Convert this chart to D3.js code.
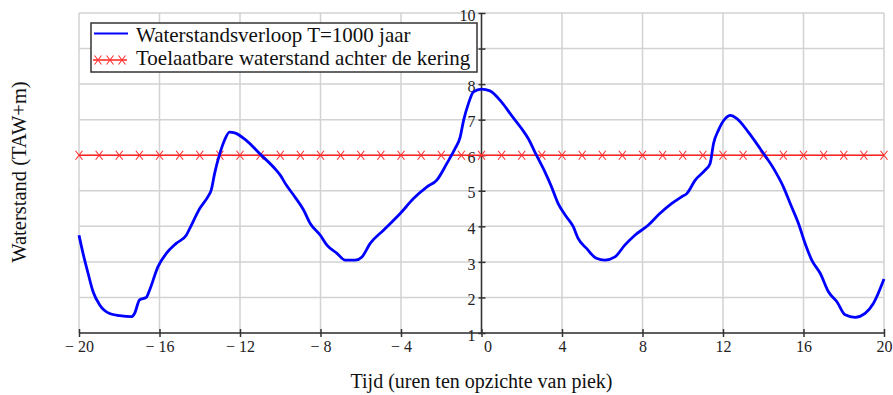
<!DOCTYPE html>
<html>
<head>
<meta charset="utf-8">
<script src="https://cdn.jsdelivr.net/npm/d3@7"></script>
<style>
  body { margin: 0; background: #fff; }
  svg { display: block; font-family: "Liberation Serif", "Times New Roman", serif; }
  .grid line { stroke: #d2d2d2; stroke-width: 1.5; }
  .axis path, .axis line { stroke: #333; stroke-width: 1.5; }
  .axis text { fill: #222; }
</style>
</head>
<body>
<script>
// Waterstand (TAW+m) over time around the peak
const hours = [-20, -19.8, -19.55, -19.3, -18.97, -18.48, -17.98, -17.4, -17.24, -16.99, -16.66, -16.49,
  -16.08, -15.66, -15.17, -14.67, -14.42, -14.0, -13.6, -13.43, -13.26, -13.0, -12.77, -12.52, -12.27,
  -11.69, -11.03, -10.2, -10.0, -9.7, -9.34, -8.84, -8.51, -8.01, -7.68, -7.18, -6.77, -6.27, -5.94,
  -5.53, -4.87, -4.04, -3.38, -2.71, -2.22, -1.72, -1.31, -1.06, -0.89, -0.65, -0.4, 0, 0.42, 0.99,
  1.49, 1.99, 2.32, 2.73, 3.15, 3.48, 3.81, 4.22, 4.56, 4.8, 5.22, 5.71, 6.13, 6.63, 7.12, 7.62, 8.28,
  8.86, 9.44, 9.94, 10.2, 10.62, 11.11, 11.36, 11.53, 11.77, 12.11, 12.36, 12.69, 13.26, 13.84, 14.51,
  15.0, 15.34, 15.75, 16.08, 16.41, 16.83, 17.24, 17.66, 18.07, 18.56, 19.06, 19.47, 20];
const level = [3.75, 3.24, 2.68, 2.16, 1.79, 1.55, 1.49, 1.46, 1.55, 1.93, 2.0, 2.21,
  2.86, 3.24, 3.52, 3.75, 4.03, 4.5, 4.83, 5.02, 5.49, 6.05, 6.42, 6.65, 6.63,
  6.42, 6.05, 5.58, 5.44, 5.16, 4.88, 4.46, 4.08, 3.75, 3.47, 3.24, 3.05, 3.05, 3.14,
  3.52, 3.89, 4.36, 4.78, 5.11, 5.3, 5.77, 6.19, 6.51, 6.98, 7.45, 7.78, 7.86, 7.81, 7.5,
  7.12, 6.75, 6.47, 6.0, 5.53, 5.11, 4.64, 4.27, 3.99, 3.66, 3.38, 3.1, 3.05, 3.14, 3.47, 3.75, 4.03,
  4.36, 4.64, 4.83, 4.92, 5.3, 5.58, 5.77, 6.33, 6.7, 7.03, 7.12, 7.03, 6.65, 6.19, 5.63,
  5.11, 4.64, 4.08, 3.52, 3.05, 2.68, 2.16, 1.88, 1.51, 1.44, 1.55, 1.83, 2.52];

// Toelaatbare waterstand (constant), marker every hour
const limitHours = [-20, -19, -18, -17, -16, -15, -14, -13, -12, -11, -10, -9, -8, -7, -6, -5, -4, -3, -2, -1,
  0, 1, 2, 3, 4, 5, 6, 7, 8, 9, 10, 11, 12, 13, 14, 15, 16, 17, 18, 19, 20];
const limitLevel = 6;

const xTicks = [-20, -16, -12, -8, -4, 0, 4, 8, 12, 16, 20];
const yTicks = [1, 2, 3, 4, 5, 6, 7, 8, 9, 10];
const legendLabels = ["Waterstandsverloop T=1000 jaar", "Toelaatbare waterstand achter de kering"];

const serif = "Liberation Serif, Times New Roman, serif";

const margin = {top: 13, right: 9, bottom: 62, left: 79};
const width = 893 - margin.left - margin.right;
const height = 395 - margin.top - margin.bottom;

const svg = d3.select("body").append("svg")
  .attr("width", 893)
  .attr("height", 395);

const g = svg.append("g")
  .attr("transform", `translate(${margin.left},${margin.top})`);

const x = d3.scaleLinear().domain([-20, 20]).range([0, width]);
const y = d3.scaleLinear().domain([1, 10]).range([height, 0]);

//Grid
const grid = g.append("g").attr("class", "grid");
grid.selectAll(".vg").data(xTicks).enter().append("line")
  .attr("x1", d => x(d)).attr("x2", d => x(d))
  .attr("y1", 0).attr("y2", height);
grid.selectAll(".hg").data(yTicks).enter().append("line")
  .attr("x1", 0).attr("x2", width)
  .attr("y1", d => y(d)).attr("y2", d => y(d));

//X axis
const xAxis = d3.axisBottom(x)
  .tickValues(xTicks)
  .tickSize(4)
  .tickFormat(d => d < 0 ? "\u2212 " + Math.abs(d) : d);

const gx = g.append("g")
  .attr("class", "axis")
  .attr("transform", `translate(0,${height})`)
  .call(xAxis)
  .attr("font-family", serif)
  .attr("font-size", 16);
gx.select(".domain").attr("d", `M0,0H${width}`);
gx.selectAll(".tick line").attr("y1", -4).attr("y2", 4);
gx.selectAll(".tick text").attr("y", 8).attr("dx", d => d === 0 ? 6 : 0);

//Y axis through 0
const yAxis = d3.axisLeft(y)
  .tickValues(yTicks)
  .tickSize(3)
  .tickPadding(3);

const gy = g.append("g")
  .attr("class", "axis")
  .attr("transform", `translate(${x(0)},0)`)
  .call(yAxis)
  .attr("font-family", serif)
  .attr("font-size", 16);
gy.select(".domain").attr("d", `M0,${height}V0`);
gy.selectAll(".tick line").attr("x1", -3).attr("x2", 4);
gy.selectAll(".tick text").attr("dy", "0.45em");

//Limit line with markers
const cross = "M-3.5,-4.5L3.5,4.5M-3.5,4.5L3.5,-4.5";

g.append("line")
  .attr("x1", x(-20)).attr("x2", x(20))
  .attr("y1", y(limitLevel)).attr("y2", y(limitLevel))
  .attr("stroke", "#ff2020").attr("stroke-width", 1.6);

g.append("g").selectAll("path")
  .data(limitHours).enter().append("path")
  .attr("d", cross)
  .attr("transform", d => `translate(${x(d)},${y(limitLevel)})`)
  .attr("fill", "none")
  .attr("stroke", "#ff3030")
  .attr("stroke-width", 1.1);

//Water level line
const line = d3.line()
  .x((d, i) => x(hours[i]))
  .y(d => y(d))
  .curve(d3.curveMonotoneX);

g.append("path")
  .datum(level)
  .attr("d", line)
  .attr("fill", "none")
  .attr("stroke", "#0000ff")
  .attr("stroke-width", 2.8)
  .attr("stroke-linejoin", "round");

//Legend
const legend = svg.append("g").attr("transform", "translate(91,23)");
legend.append("rect")
  .attr("width", 386).attr("height", 49)
  .attr("fill", "#fff")
  .attr("stroke", "#333").attr("stroke-width", 1.5);

legend.append("line")
  .attr("x1", 3).attr("x2", 37).attr("y1", 10.5).attr("y2", 10.5)
  .attr("stroke", "#0000ff").attr("stroke-width", 2.2);

legend.append("line")
  .attr("x1", 2).attr("x2", 36).attr("y1", 37).attr("y2", 37)
  .attr("stroke", "#ff2020").attr("stroke-width", 1.4);
legend.selectAll(".lm").data([7, 19, 31]).enter().append("path")
  .attr("d", cross)
  .attr("transform", d => `translate(${d},37)`)
  .attr("fill", "none").attr("stroke", "#ff3030").attr("stroke-width", 1.1);

legend.selectAll("text").data(legendLabels).enter().append("text")
  .attr("x", 45)
  .attr("y", (d, i) => 19 + i * 23)
  .attr("font-size", "21px")
  .attr("fill", "#111")
  .text(d => d);

//Axis titles
svg.append("text")
  .attr("x", margin.left + x(0))
  .attr("y", 388)
  .attr("text-anchor", "middle")
  .attr("font-size", "20px")
  .attr("fill", "#111")
  .text("Tijd (uren ten opzichte van piek)");

svg.append("text")
  .attr("transform", `translate(26,172) rotate(-90)`)
  .attr("text-anchor", "middle")
  .attr("font-size", "20.5px")
  .attr("fill", "#111")
  .text("Waterstand (TAW+m)");
</script>
</body>
</html>
